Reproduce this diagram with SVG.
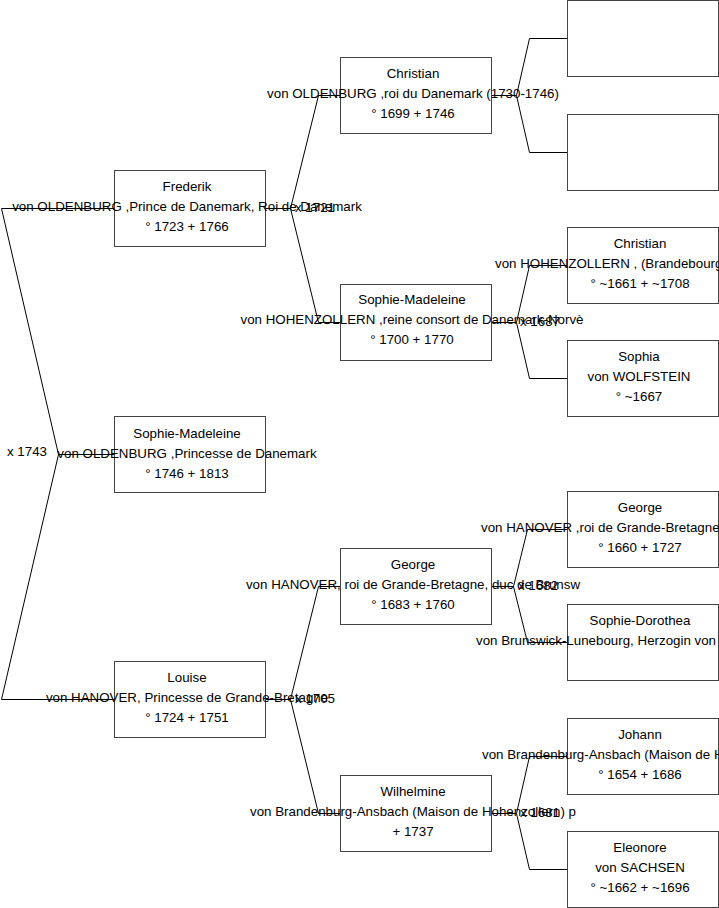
<svg xmlns="http://www.w3.org/2000/svg" width="719" height="908" viewBox="0 0 719 908">
<style>
  .box { fill: #ffffff; stroke: #444444; stroke-width: 1; }
  .ln { fill: none; stroke: #000000; stroke-width: 1; }
  text { font-family: "Liberation Sans", Arial, sans-serif; font-size: 13.33px; fill: #000000; }
  .c { text-anchor: middle; }
  .s { text-anchor: start; }
</style>
<rect x="0" y="0" width="719" height="908" fill="#ffffff"/>

<g id="connectors">
  <!-- root fork -->
  <polyline class="ln" points="114,454.5 58.5,454.5"/>
  <polyline class="ln" points="114,208.5 1.5,208.5 58.5,454.5 1.5,699.5 114,699.5"/>
  <!-- Frederik fork -->
  <polyline class="ln" points="265,208.5 290.5,208.5"/>
  <polyline class="ln" points="340,95.5 318.5,95.5 290.5,208.5 318.5,322.5 340,322.5"/>
  <!-- Louise fork -->
  <polyline class="ln" points="265,699.5 290.5,699.5"/>
  <polyline class="ln" points="340,586.5 318.5,586.5 290.5,699.5 318.5,813.5 340,813.5"/>
  <!-- Christian fork -->
  <polyline class="ln" points="491,95.5 516.5,95.5"/>
  <polyline class="ln" points="567,38.5 529.5,38.5 516.5,95.5 529.5,152.5 567,152.5"/>
  <!-- Sophie-Madeleine fork -->
  <polyline class="ln" points="491,322.5 516.5,322.5"/>
  <polyline class="ln" points="567,265.5 529.5,265.5 516.5,322.5 529.5,378.5 567,378.5"/>
  <!-- George fork -->
  <polyline class="ln" points="491,586.5 513.5,586.5"/>
  <polyline class="ln" points="567,529.5 527.5,529.5 513.5,586.5 527.5,642.5 567,642.5"/>
  <!-- Wilhelmine fork -->
  <polyline class="ln" points="491,813.5 516.5,813.5"/>
  <polyline class="ln" points="567,756.5 529.5,756.5 516.5,813.5 529.5,869.5 567,869.5"/>
  <!-- marriage labels -->
  <text class="s" x="7" y="456">x 1743</text>
  <text class="s" x="295" y="212">x 1721</text>
  <text class="s" x="295" y="703">x 1705</text>
  <text class="s" x="520" y="326">x 1687</text>
  <text class="s" x="518" y="590">x 1682</text>
  <text class="s" x="520" y="817">x 1681</text>
</g>

<g id="n-sophie-madeleine-oldenburg">
  <rect class="box" x="114.5" y="416.5" width="151" height="76"/>
  <text class="c" x="187" y="438">Sophie-Madeleine</text>
  <text class="c" x="187" y="458">von OLDENBURG ,Princesse de Danemark</text>
  <text class="c" x="187" y="478">° 1746 + 1813</text>
</g>

<g id="n-frederik">
  <rect class="box" x="114.5" y="170.5" width="151" height="76"/>
  <text class="c" x="187" y="191">Frederik</text>
  <text class="c" x="187" y="211">von OLDENBURG ,Prince de Danemark, Roi de Danemark</text>
  <text class="c" x="187" y="231">° 1723 + 1766</text>
</g>

<g id="n-louise">
  <rect class="box" x="114.5" y="661.5" width="151" height="76"/>
  <text class="c" x="187" y="682">Louise</text>
  <text class="c" x="187" y="702">von HANOVER, Princesse de Grande-Bretagne</text>
  <text class="c" x="187" y="722">° 1724 + 1751</text>
</g>

<g id="n-christian-oldenburg">
  <rect class="box" x="340.5" y="57.5" width="151" height="76"/>
  <text class="c" x="413" y="78">Christian</text>
  <text class="c" x="413" y="98">von OLDENBURG ,roi du Danemark (1730-1746)</text>
  <text class="c" x="413" y="118">° 1699 + 1746</text>
</g>

<g id="n-sophie-madeleine-hohenzollern">
  <rect class="box" x="340.5" y="284.5" width="151" height="76"/>
  <text class="c" x="412" y="304">Sophie-Madeleine</text>
  <text class="c" x="412" y="324">von HOHENZOLLERN ,reine consort de Danemark-Norvè</text>
  <text class="c" x="412" y="344">° 1700 + 1770</text>
</g>

<g id="n-george-1683">
  <rect class="box" x="340.5" y="548.5" width="151" height="76"/>
  <text class="c" x="413" y="569">George</text>
  <text class="c" x="413" y="589">von HANOVER, roi de Grande-Bretagne, duc de Brunsw</text>
  <text class="c" x="413" y="609">° 1683 + 1760</text>
</g>

<g id="n-wilhelmine">
  <rect class="box" x="340.5" y="775.5" width="151" height="76"/>
  <text class="c" x="413" y="796">Wilhelmine</text>
  <text class="c" x="413" y="816">von Brandenburg-Ansbach (Maison de Hohenzollern) p</text>
  <text class="c" x="413" y="836">+ 1737</text>
</g>

<g id="n-empty-1">
  <rect class="box" x="567.5" y="0.5" width="151" height="76"/>
</g>

<g id="n-empty-2">
  <rect class="box" x="567.5" y="114.5" width="151" height="76"/>
</g>

<g id="n-christian-hohenzollern">
  <rect class="box" x="567.5" y="227.5" width="151" height="76"/>
  <text class="c" x="640" y="248">Christian</text>
  <text class="s" x="495" y="268">von HOHENZOLLERN , (Brandebourg</text>
  <text class="c" x="640" y="288">° ~1661 + ~1708</text>
</g>

<g id="n-sophia">
  <rect class="box" x="567.5" y="340.5" width="151" height="76"/>
  <text class="c" x="639" y="361">Sophia</text>
  <text class="c" x="639" y="381">von WOLFSTEIN</text>
  <text class="c" x="639" y="401">° ~1667</text>
</g>

<g id="n-george-1660">
  <rect class="box" x="567.5" y="491.5" width="151" height="76"/>
  <text class="c" x="640" y="512">George</text>
  <text class="s" x="481" y="532">von HANOVER ,roi de Grande-Bretagne</text>
  <text class="c" x="640" y="552">° 1660 + 1727</text>
</g>

<g id="n-sophie-dorothea">
  <rect class="box" x="567.5" y="604.5" width="151" height="76"/>
  <text class="c" x="640" y="625">Sophie-Dorothea</text>
  <text class="s" x="476" y="645">von Brunswick-Lunebourg, Herzogin von</text>
</g>

<g id="n-johann">
  <rect class="box" x="567.5" y="718.5" width="151" height="76"/>
  <text class="c" x="640" y="739">Johann</text>
  <text class="s" x="482" y="759">von Brandenburg-Ansbach (Maison de H</text>
  <text class="c" x="640" y="779">° 1654 + 1686</text>
</g>

<g id="n-eleonore">
  <rect class="box" x="567.5" y="831.5" width="151" height="76"/>
  <text class="c" x="640" y="852">Eleonore</text>
  <text class="c" x="640" y="872">von SACHSEN</text>
  <text class="c" x="640" y="892">° ~1662 + ~1696</text>
</g>
</svg>
